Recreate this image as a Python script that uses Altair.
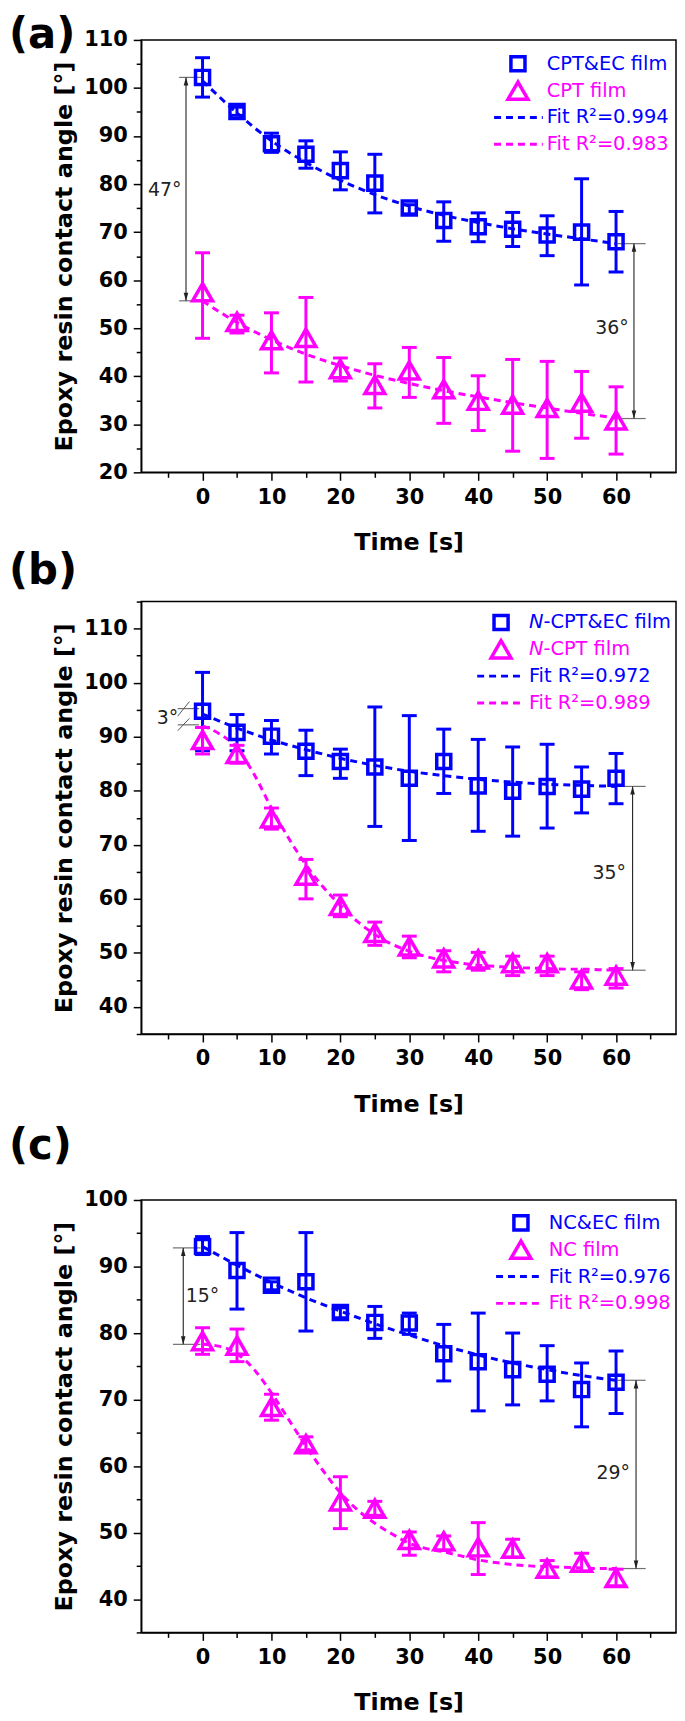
import altair as alt
import pandas as pd

# ---------------- data ----------------
time = [0, 5, 10, 15, 20, 25, 30, 35, 40, 45, 50, 55, 60]
fit_time = [0, 2.5, 5, 7.5, 10, 12.5, 15, 17.5, 20, 22.5, 25, 27.5, 30, 32.5,
            35, 37.5, 40, 42.5, 45, 47.5, 50, 52.5, 55, 57.5, 60]
x_ticks = [-5, 0, 5, 10, 15, 20, 25, 30, 35, 40, 45, 50, 55, 60, 65]

# (a) CPT&EC film / CPT film
a_sq = [102.2, 95.1, 88.4, 86.2, 82.8, 80.2, 75.0, 72.4, 71.1, 70.6, 69.4, 70.0, 68.0]
a_sq_lo = [98.1, 94.3, 86.6, 83.3, 78.8, 74.0, 73.8, 68.1, 68.0, 67.0, 65.1, 59.0, 61.7]
a_sq_hi = [106.3, 96.0, 90.6, 89.0, 86.7, 86.2, 75.7, 76.3, 74.0, 74.1, 73.4, 81.1, 74.3]
a_tri = [57.5, 51.3, 47.5, 48.0, 41.5, 38.2, 41.2, 37.3, 34.9, 34.1, 33.4, 34.5, 30.8]
a_tri_lo = [47.9, 49.0, 40.7, 38.8, 39.0, 33.4, 35.6, 30.2, 28.7, 24.4, 22.9, 27.1, 23.8]
a_tri_hi = [65.7, 52.7, 53.2, 56.4, 43.8, 42.6, 46.0, 43.9, 40.1, 43.5, 43.1, 41.0, 37.8]
a_fit_sq = [101.5, 94.8, 89.0, 84.5, 80.8, 77.8, 75.4, 73.5, 72.0, 70.7, 69.6, 68.6, 67.6]
a_fit_tri = [55.7, 51.2, 47.6, 44.6, 42.2, 40.2, 38.5, 37.0, 35.7, 34.5, 33.4, 32.3, 31.3]
a_y_ticks = [20, 25, 30, 35, 40, 45, 50, 55, 60, 65, 70, 75, 80, 85, 90, 95, 100, 105, 110]
a_legend = ["CPT&EC film", "CPT film", "Fit R²=0.994", "Fit R²=0.983"]

# (b) N-CPT&EC film / N-CPT film
b_sq = [94.7, 90.8, 90.1, 87.3, 85.4, 84.4, 82.3, 85.4, 80.9, 79.9, 80.8, 80.3, 82.3]
b_sq_lo = [87.4, 87.4, 86.8, 82.8, 82.3, 73.4, 70.8, 79.5, 72.5, 71.6, 73.1, 75.9, 77.6]
b_sq_hi = [101.9, 94.1, 93.0, 91.2, 87.7, 95.5, 93.9, 91.4, 89.5, 88.1, 88.6, 84.4, 86.9]
b_tri = [89.4, 86.8, 74.9, 64.3, 58.7, 53.7, 51.2, 49.0, 48.8, 48.1, 48.1, 45.1, 45.8]
b_tri_lo = [86.8, 85.1, 72.9, 60.0, 56.7, 51.4, 49.1, 46.5, 46.8, 45.8, 45.8, 43.2, 43.5]
b_tri_hi = [91.7, 88.4, 76.8, 67.3, 60.7, 55.7, 53.1, 50.4, 50.1, 49.4, 49.4, 46.5, 47.1]
b_fit_sq = [94.2, 91.6, 89.4, 87.6, 86.0, 84.7, 83.6, 82.8, 82.1, 81.6, 81.2, 81.0, 80.8]
b_fit_tri = [92.0, 90.5, 87.9, 83.0, 76.8, 71.2, 66.3, 62.2, 58.8, 55.8, 53.4, 51.6, 50.3,
             49.3, 48.6, 48.1, 47.7, 47.5, 47.3, 47.2, 47.1, 47.0, 47.0, 46.9, 46.8]
b_y_ticks = [35, 40, 45, 50, 55, 60, 65, 70, 75, 80, 85, 90, 95, 100, 105, 110, 115]
b_legend = ["-CPT&EC film", "-CPT film", "Fit R²=0.972", "Fit R²=0.989"]

# (c) NC&EC film / NC film
c_sq = [93.0, 89.4, 87.2, 87.7, 83.1, 81.6, 81.5, 76.9, 75.7, 74.5, 73.8, 71.5, 72.6]
c_sq_lo = [91.8, 83.6, 86.5, 80.3, 82.3, 79.2, 79.8, 72.8, 68.3, 69.2, 69.8, 65.9, 67.9]
c_sq_hi = [94.5, 95.1, 87.7, 95.1, 83.8, 84.0, 83.0, 81.3, 83.0, 80.0, 78.1, 75.5, 77.3]
c_tri = [78.8, 78.1, 68.9, 63.3, 54.7, 53.6, 48.9, 48.7, 47.8, 47.6, 44.6, 45.5, 43.2]
c_tri_lo = [76.8, 75.7, 66.9, 62.4, 50.6, 52.6, 46.6, 47.3, 43.7, 46.3, 43.3, 44.2, 42.0]
c_tri_hi = [80.8, 80.6, 70.8, 64.4, 58.4, 54.7, 50.1, 49.5, 51.5, 49.0, 45.8, 46.9, 44.5]
c_fit_sq = [93.0, 90.2, 87.6, 85.3, 83.3, 81.4, 79.7, 78.1, 76.7, 75.5, 74.5, 73.6, 72.9]
c_fit_tri = [78.3, 78.0, 76.9, 74.5, 71.0, 67.0, 63.0, 59.3, 56.0, 53.4, 51.4, 49.8, 48.4,
             47.6, 47.1, 46.5, 45.9, 45.5, 45.2, 45.0, 44.9, 44.8, 44.7, 44.6, 44.6]
c_y_ticks = [35, 40, 45, 50, 55, 60, 65, 70, 75, 80, 85, 90, 95, 100]
c_legend = ["NC&EC film", "NC film", "Fit R²=0.976", "Fit R²=0.998"]

# annotations: reference lines (x1, x2, y), arrows (x, top, bottom), texts
a_ref_x1 = [-3.4, -3.4, 60.2, 60.2]
a_ref_x2 = [-0.2, -0.2, 64.3, 64.3]
a_ref_y = [102.2, 55.7, 67.6, 31.2]
a_arrow_x = [-2.4, 62.6]
a_arrow_top = [102.2, 67.6]
a_arrow_bot = [55.7, 31.2]
a_note = ["47°", "36°"]
a_note_x = [-5.5, 59.4]
a_note_y = [78.7, 50.0]

b_ref_x1 = [-3.6, -3.6, 60.2, 60.2]
b_ref_x2 = [-0.5, -0.5, 64.3, 64.3]
b_ref_y = [95.2, 92.2, 80.8, 46.8]
b_arrow_x = [62.4]
b_arrow_top = [80.8]
b_arrow_bot = [46.8]
b_note = ["3°", "35°"]
b_note_x = [-5.1, 59.0]
b_note_y = [93.4, 64.8]
b_diag_x1 = [-3.6, -3.6]
b_diag_x2 = [-1.9, -1.9]
b_diag_y1 = [93.8, 91.1]
b_diag_y2 = [96.5, 93.4]

c_ref_x1 = [-4.3, -4.3, 60.2, 60.2]
c_ref_x2 = [-0.3, -0.3, 64.3, 64.3]
c_ref_y = [92.8, 78.3, 72.9, 44.6]
c_arrow_x = [-2.8, 62.9]
c_arrow_top = [92.8, 72.9]
c_arrow_bot = [78.3, 44.6]
c_note = ["15°", "29°"]
c_note_x = [0.0, 59.6]
c_note_y = [85.6, 58.9]

# ---------------- style ----------------
BLUE = "#0000ff"
MAG = "#ff00ff"
FONT = "DejaVu Sans"
W, H = 538, 435
X_DOMAIN = [-8.9, 68.7]
MAJOR = "datum.value % 10 === 0"
TICK_SIZE = {"condition": {"test": MAJOR, "value": 8}, "value": 5}
LABELS = "datum.value % 10 === 0 ? datum.label : ''"
SQ_SIZE = 200
TRI_SIZE = 400


def X(field):
    return alt.X(f"{field}:Q", scale=alt.Scale(domain=X_DOMAIN, nice=False, zero=False),
                 title="Time [s]",
                 axis=alt.Axis(values=x_ticks, labelExpr=LABELS, tickSize=TICK_SIZE,
                               labelPadding=6, titlePadding=24, labelFlush=False,
                               labelOverlap=False))


def make_Y(ydom, yticks):
    def Y(field):
        return alt.Y(f"{field}:Q", scale=alt.Scale(domain=ydom, nice=False, zero=False),
                     title="Epoxy resin contact angle [°]",
                     axis=alt.Axis(values=yticks, labelExpr=LABELS, tickSize=TICK_SIZE,
                                   labelPadding=6, titlePadding=7, labelFlush=False,
                                   labelOverlap=False))
    return Y


def one(v):
    return alt.Chart(pd.DataFrame({"s": [v]}))


def panel(letter, label_dy, ydom, yticks, sq, sq_lo, sq_hi, tri, tri_lo, tri_hi,
          fsq_t, fsq, ftri_t, ftri, legend, leg_x, leg_rows,
          ref_x1, ref_x2, ref_y, ar_x, ar_top, ar_bot, note, note_x, note_y,
          diag=None, spacer_dy=None, italic_n=False):
    Y = make_Y(ydom, yticks)
    layers = []
    df_sq = pd.DataFrame({"t": time, "v": sq, "lo": sq_lo, "hi": sq_hi})
    df_tri = pd.DataFrame({"t": time, "v": tri, "lo": tri_lo, "hi": tri_hi})

    # annotation reference lines
    df_ref = pd.DataFrame({"x1": ref_x1, "x2": ref_x2, "y": ref_y})
    layers.append(alt.Chart(df_ref).mark_rule(color="#707070", strokeWidth=1.2)
                  .encode(x=X("x1"), x2="x2", y=Y("y")))
    if diag is not None:
        df_d = pd.DataFrame({"x1": diag[0], "x2": diag[1], "y1": diag[2], "y2": diag[3]})
        layers.append(alt.Chart(df_d).mark_rule(color="#555555", strokeWidth=1)
                      .encode(x=X("x1"), x2="x2", y=Y("y1"), y2="y2"))
    # arrows
    df_ar = pd.DataFrame({"x": ar_x, "top": ar_top, "bot": ar_bot})
    layers.append(alt.Chart(df_ar).mark_rule(color="#222222", strokeWidth=1.1)
                  .encode(x=X("x"), y=Y("top"), y2="bot"))
    layers.append(alt.Chart(df_ar).mark_point(shape="M0,-1L0.55,1L-0.55,1Z", size=70,
                                              filled=True, color="#222222", opacity=1, yOffset=4)
                  .encode(x=X("x"), y=Y("top")))
    layers.append(alt.Chart(df_ar).mark_point(shape="M0,1L0.55,-1L-0.55,-1Z", size=70,
                                              filled=True, color="#222222", opacity=1, yOffset=-4)
                  .encode(x=X("x"), y=Y("bot")))
    df_note = pd.DataFrame({"label": note, "x": note_x, "y": note_y})
    layers.append(alt.Chart(df_note).mark_text(font=FONT, fontSize=19, color="#222222",
                                               align="center", baseline="middle")
                  .encode(x=X("x"), y=Y("y"), text="label:N"))

    # error bars
    for df, col in [(df_sq, BLUE), (df_tri, MAG)]:
        base = alt.Chart(df)
        layers.append(base.mark_rule(color=col, strokeWidth=3)
                      .encode(x=X("t"), y=Y("lo"), y2="hi"))
        for f in ["lo", "hi"]:
            layers.append(base.mark_rule(color=col, strokeWidth=3, xOffset=-7.5, x2Offset=7.5)
                          .encode(x=X("t"), x2="t", y=Y(f)))
    # fit curves
    for tt, vv, col in [(fsq_t, fsq, BLUE), (ftri_t, ftri, MAG)]:
        layers.append(alt.Chart(pd.DataFrame({"t": tt, "v": vv}))
                      .mark_line(color=col, strokeWidth=3, strokeDash=[7, 5], interpolate="monotone")
                      .encode(x=X("t"), y=Y("v")))
    # markers
    layers.append(alt.Chart(df_sq).mark_point(shape="square", size=SQ_SIZE, filled=False, color=BLUE,
                                              strokeWidth=3.5, opacity=1)
                  .encode(x=X("t"), y=Y("v")))
    layers.append(alt.Chart(df_tri).mark_point(shape="triangle-up", size=TRI_SIZE, filled=False,
                                               color=MAG, strokeWidth=3.5, opacity=1)
                  .encode(x=X("t"), y=Y("v")))

    # legend
    dx1, dx2, mx, tx = leg_x
    r0, r1, r2, r3 = leg_rows
    layers.append(one("s").mark_point(shape="square", size=SQ_SIZE, filled=False, color=BLUE,
                                      strokeWidth=3.5, opacity=1)
                  .encode(x=alt.value(mx), y=alt.value(r0)))
    layers.append(one("t").mark_point(shape="triangle-up", size=TRI_SIZE, filled=False, color=MAG,
                                      strokeWidth=3.5, opacity=1)
                  .encode(x=alt.value(mx), y=alt.value(r1)))
    for r, col in [(r2, BLUE), (r3, MAG)]:
        layers.append(one("d").mark_rule(color=col, strokeWidth=3, strokeDash=[7, 5])
                      .encode(x=alt.value(dx1), x2=alt.value(dx2), y=alt.value(r)))
    n_w = 14.6 if italic_n else 0
    for lab, r, col in zip(legend, leg_rows, [BLUE, MAG, BLUE, MAG]):
        is_film = "film" in lab
        x0 = tx + (n_w if (italic_n and is_film) else 0)
        layers.append(one(lab).mark_text(font=FONT, fontSize=19.5, color=col, align="left",
                                         baseline="middle")
                      .encode(x=alt.value(x0), y=alt.value(r), text="s:N"))
        if italic_n and is_film:
            layers.append(one("N").mark_text(font=FONT, fontSize=19.5, color=col, align="left",
                                             baseline="middle", fontStyle="italic")
                          .encode(x=alt.value(tx), y=alt.value(r), text="s:N"))

    # panel letter
    layers.append(one(letter).mark_text(font=FONT, fontSize=42, fontWeight="bold", color="black",
                                        align="left", baseline="top")
                  .encode(x=alt.value(-133), y=alt.value(label_dy), text="s:N"))
    if spacer_dy is not None:
        layers.append(one(" ").mark_text(font=FONT, fontSize=20, opacity=0, align="left",
                                         baseline="top")
                      .encode(x=alt.value(0), y=alt.value(spacer_dy), text="s:N"))
    return alt.layer(*layers).properties(width=W, height=H)


pa = panel("(a)", -25, [20, 110], a_y_ticks, a_sq, a_sq_lo, a_sq_hi, a_tri, a_tri_lo, a_tri_hi,
           time, a_fit_sq, time, a_fit_tri, a_legend, (355, 404, 379, 408), (24, 51, 78, 105),
           a_ref_x1, a_ref_x2, a_ref_y, a_arrow_x, a_arrow_top, a_arrow_bot,
           a_note, a_note_x, a_note_y)
pb = panel("(b)", -51, [35, 115], b_y_ticks, b_sq, b_sq_lo, b_sq_hi, b_tri, b_tri_lo, b_tri_hi,
           time, b_fit_sq, fit_time, b_fit_tri, b_legend, (338, 384, 362, 390), (21, 48, 75, 102),
           b_ref_x1, b_ref_x2, b_ref_y, b_arrow_x, b_arrow_top, b_arrow_bot,
           b_note, b_note_x, b_note_y,
           diag=(b_diag_x1, b_diag_x2, b_diag_y1, b_diag_y2), italic_n=True)
pc = panel("(c)", -74, [35, 100], c_y_ticks, c_sq, c_sq_lo, c_sq_hi, c_tri, c_tri_lo, c_tri_hi,
           time, c_fit_sq, fit_time, c_fit_tri, c_legend, (357, 404, 382, 410), (23, 50, 77, 104),
           c_ref_x1, c_ref_x2, c_ref_y, c_arrow_x, c_arrow_top, c_arrow_bot,
           c_note, c_note_x, c_note_y, spacer_dy=-89)

chart = (
    alt.vconcat(pa, pb, pc, spacing=-7)
    .properties(padding=0, background="white")
    .configure_view(stroke="black", strokeWidth=1.5)
    .configure_axis(grid=False, domainColor="black", domainWidth=1.5, tickColor="black",
                    tickWidth=1.5, labelFont=FONT, labelFontSize=21, labelFontWeight="bold",
                    labelColor="black", titleFont=FONT, titleFontSize=24,
                    titleFontWeight="bold", titleColor="black")
)

chart.save("out.html", embed_options={"renderer": "svg", "actions": False})
